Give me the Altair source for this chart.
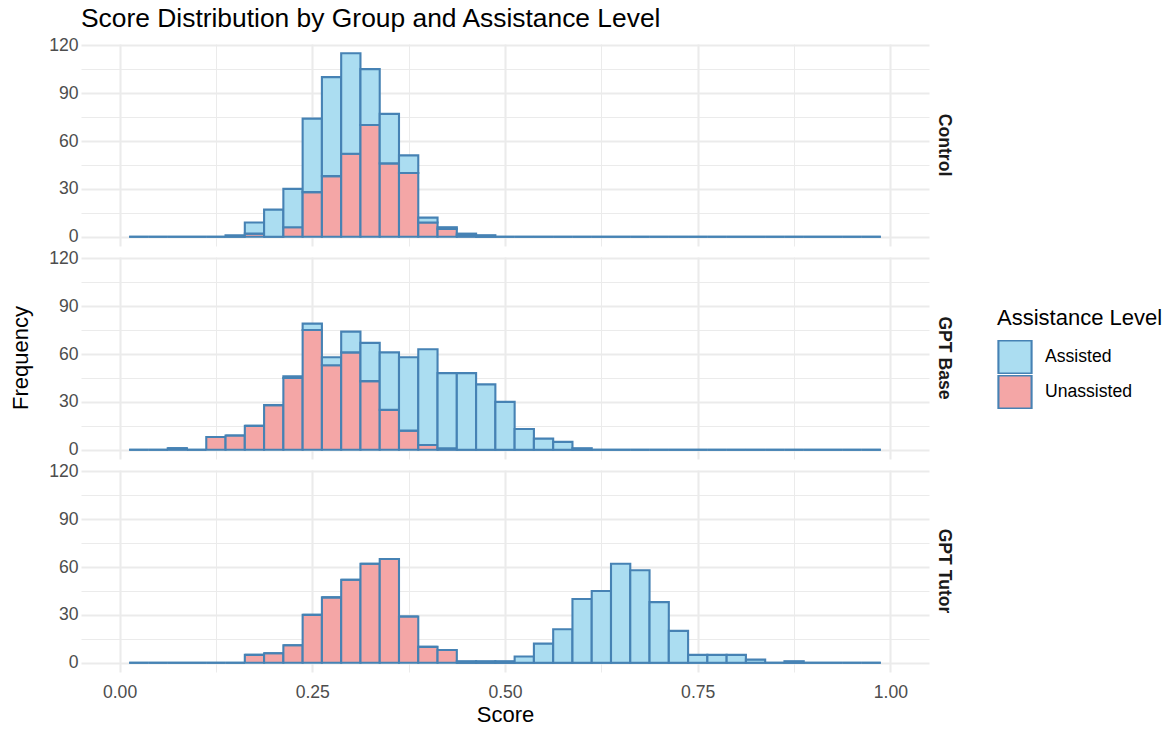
import altair as alt
import pandas as pd

# ---- data ----
bin_centers = [0.025, 0.05, 0.075, 0.1, 0.125, 0.15, 0.175, 0.2, 0.225, 0.25,
               0.275, 0.3, 0.325, 0.35, 0.375, 0.4, 0.425, 0.45, 0.475, 0.5,
               0.525, 0.55, 0.575, 0.6, 0.625, 0.65, 0.675, 0.7, 0.725, 0.75,
               0.775, 0.8, 0.825, 0.85, 0.875, 0.9, 0.925, 0.95, 0.975]
BIN_WIDTH = 0.025

groups = ["Control", "GPT Base", "GPT Tutor"]
levels = ["Assisted", "Unassisted"]

control_assisted = [0, 0, 0, 0, 0, 1, 7, 17, 24, 46, 62, 63, 35, 31, 11, 3, 1, 1, 1, 0,
                    0, 0, 0, 0, 0, 0, 0, 0, 0, 0, 0, 0, 0, 0, 0, 0, 0, 0, 0]
control_unassisted = [0, 0, 0, 0, 0, 0, 2, 0, 6, 28, 38, 52, 70, 46, 40, 9, 5, 1, 0, 0,
                      0, 0, 0, 0, 0, 0, 0, 0, 0, 0, 0, 0, 0, 0, 0, 0, 0, 0, 0]
base_assisted = [0, 0, 0, 0, 0, 0, 0, 0, 1, 4, 5, 13, 24, 36, 46, 60, 47, 48, 41, 30,
                 13, 7, 5, 1, 0, 0, 0, 0, 0, 0, 0, 0, 0, 0, 0, 0, 0, 0, 0]
base_unassisted = [0, 0, 1, 0, 8, 9, 15, 28, 45, 75, 53, 61, 43, 25, 12, 3, 1, 0, 0, 0,
                   0, 0, 0, 0, 0, 0, 0, 0, 0, 0, 0, 0, 0, 0, 0, 0, 0, 0, 0]
tutor_assisted = [0, 0, 0, 0, 0, 0, 0, 0, 0, 0, 0, 0, 0, 0, 0, 0, 0, 1, 1, 1,
                  4, 12, 21, 40, 45, 62, 58, 38, 20, 5, 5, 5, 2, 0, 1, 0, 0, 0, 0]
tutor_unassisted = [0, 0, 0, 0, 0, 0, 5, 6, 11, 30, 41, 52, 62, 65, 29, 10, 8, 0, 0, 0,
                    0, 0, 0, 0, 0, 0, 0, 0, 0, 0, 0, 0, 0, 0, 0, 0, 0, 0, 0]

x_axis_values = [0, 0.125, 0.25, 0.375, 0.5, 0.625, 0.75, 0.875, 1.0]
y_axis_values = [0, 15, 30, 45, 60, 75, 90, 105, 120]

series = {
    "Control": (control_assisted, control_unassisted),
    "GPT Base": (base_assisted, base_unassisted),
    "GPT Tutor": (tutor_assisted, tutor_unassisted),
}

rows = []
for g in groups:
    a_vals, u_vals = series[g]
    for c, a, u in zip(bin_centers, a_vals, u_vals):
        rows.append({"group": g, "level": "Unassisted", "ord": 0,
                     "lo": c - BIN_WIDTH / 2, "hi": c + BIN_WIDTH / 2, "count": u})
        rows.append({"group": g, "level": "Assisted", "ord": 1,
                     "lo": c - BIN_WIDTH / 2, "hi": c + BIN_WIDTH / 2, "count": a})
df = pd.DataFrame(rows)

FONT = "Liberation Sans"
GRID = "#EBEBEB"

bars = alt.Chart(df).transform_stack(
    stack="count", groupby=["group", "lo"], as_=["y0", "y1"],
    sort=[alt.SortField("ord", order="ascending")],
).mark_bar(
    stroke="#4682B4", strokeWidth=2.1
).encode(
    x=alt.X("lo:Q",
            scale=alt.Scale(domain=[-0.05, 1.05], nice=False, zero=False),
            axis=alt.Axis(values=x_axis_values, title="Score",
                          labelExpr="round(datum.value*1000) % 250 === 0 ? format(datum.value, '.2f') : ''",
                          gridWidth={"condition": {"test": "round(datum.value*1000) % 250 === 0", "value": 2.1},
                                     "value": 1.05},
                          labelOverlap=False, labelPadding=11, titlePadding=4)),
    x2="hi:Q",
    y=alt.Y("y0:Q",
            scale=alt.Scale(domain=[-5.75, 120.75], nice=False, zero=False),
            axis=alt.Axis(values=y_axis_values, title=None,
                          labelExpr="datum.value % 30 === 0 ? datum.label : ''",
                          gridWidth={"condition": {"test": "datum.value % 30 === 0", "value": 2.1},
                                     "value": 1.05},
                          labelOverlap=False, labelPadding=3)),
    y2="y1:Q",
    color=alt.Color("level:N",
                    scale=alt.Scale(domain=levels, range=["#ABDDF1", "#F4A6A6"]),
                    legend=alt.Legend(title="Assistance Level", orient="none",
                                      legendX=916, legendY=264,
                                      symbolType="square", symbolSize=1100,
                                      symbolStrokeColor="#4682B4", symbolStrokeWidth=2.1,
                                      labelOffset=12, rowPadding=1, clipHeight=34)),
).properties(width=848, height=202)

chart = bars.facet(
    row=alt.Row("group:N", sort=groups,
                header=alt.Header(title="Frequency", titleOrient="left",
                                  titleFont=FONT, titleFontSize=22, titleFontWeight="normal",
                                  titleColor="black", titlePadding=5,
                                  labelOrient="right", labelAngle=90,
                                  labelFontWeight="bold", labelFontSize=17.6,
                                  labelColor="#1A1A1A", labelFont=FONT, labelPadding=6)),
    spacing=11,
).properties(
    title=alt.TitleParams("Score Distribution by Group and Assistance Level",
                          anchor="start", fontSize=26.4, font=FONT, dx=71,
                          fontWeight="normal", color="black", offset=4),
    padding={"left": 9, "top": 5, "right": 5, "bottom": 5},
).configure_view(stroke=None).configure_axis(
    domain=False, ticks=False, tickSize=0,
    gridColor=GRID,
    labelFont=FONT, labelFontSize=17.6, labelColor="#4D4D4D", labelPadding=8,
    titleFont=FONT, titleFontSize=22, titleFontWeight="normal", titleColor="black",
    titlePadding=8,
).configure_legend(
    titleFont=FONT, titleFontSize=22, titleFontWeight="normal", titleColor="black",
    labelFont=FONT, labelFontSize=17.6, labelColor="black", titlePadding=10,
)

chart.save("out.html", embed_options={"renderer": "svg", "actions": False})
